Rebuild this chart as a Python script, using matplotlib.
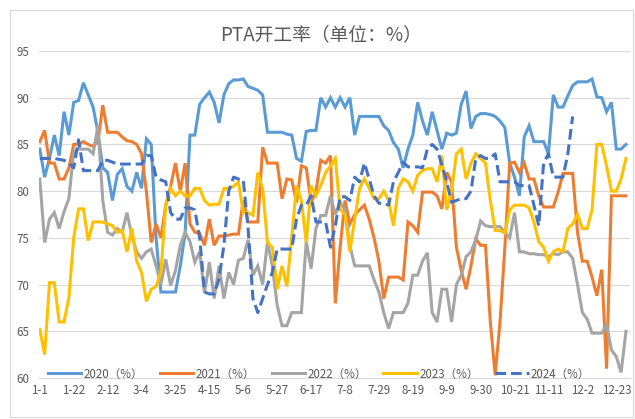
import numpy as np
import matplotlib
matplotlib.use('Agg')
import matplotlib.pyplot as plt
from matplotlib.patches import Rectangle

plt.rcParams['font.family'] = ['Noto Sans CJK SC', 'DejaVu Sans']

# --- data: PTA开工率, one value every 3 days from 1-1 (leap-year calendar) ---
DAYS = np.arange(0, 366, 3)

TICK_DAYS = np.arange(0, 358, 21)
TICK_LABELS = ['1-1', '1-22', '2-12', '3-4', '3-25', '4-15', '5-6', '5-27', '6-17',
               '7-8', '7-29', '8-19', '9-9', '9-30', '10-21', '11-11', '12-2', '12-23']

Y_TICKS = [60, 65, 70, 75, 80, 85, 90, 95]

rate_2020 = [
    84.5, 81.5, 83.5, 86, 83.8, 88.5, 86, 89.5, 89.7, 91.6, 90.3, 89, 86.3, 82.5, 82, 79,
    81.8, 82.4, 80.5, 80, 82, 80.3, 85.6, 85, 75, 69.2, 69.2, 69.2, 69.2, 72, 75.5,
    86, 86, 89.3, 90, 90.6, 89.5, 87.3, 90.3, 91.5, 91.9, 91.9, 92, 91.2, 91, 90.8, 90.3,
    86.3, 86.3, 86.3, 86.3, 86.1, 86, 83.5, 83.2, 86.4, 86.5, 86.5, 90, 89, 90, 89,
    90, 89, 90, 86, 88, 88, 88, 88, 88, 87, 86.5, 85.2, 84.5, 82.5, 84.5, 86, 89.5,
    87.5, 86, 88.5, 86.5, 84.5, 86.2, 86, 86.2, 89.3, 90.7, 86.7, 88, 88.3, 88.3,
    88.2, 88, 87.5, 86.8, 83, 81.5, 79.5, 85.8, 87, 85.3, 85.3, 85.3, 84, 90.3, 89, 89,
    90.2, 91.3, 91.7, 91.7, 91.7, 92, 90.1, 90, 88.5, 89.5, 84.5, 84.5, 85,
]

rate_2021 = [
    85.3, 86.5, 83, 83, 81.3, 81.3, 82.5, 85, 85, 85.3, 85, 84.8, 85.3, 89.2, 86.3, 86.3,
    86.3, 85.8, 85.4, 85.3, 85, 84, 80, 74.5, 76.5, 75, 78.5, 80.5, 83, 80, 83,
    76.5, 75.6, 75.5, 74.2, 77, 74.2, 75.2, 75.2, 75.3, 75.4, 75.4, 79, 76.7, 76.7, 76.7,
    84.7, 83, 83, 83, 79.2, 81.3, 81.2, 78.8, 82.7, 82.5, 78.8, 80, 83.3, 83, 83.8, 68,
    74, 79, 76.5, 77.5, 78, 78.5, 77, 75, 72.5, 68.5, 70.8, 70.8, 70.8, 70.5, 76.7, 76.3,
    75.6, 79.9, 79.9, 79.9, 79.5, 78.1, 82, 81, 74, 71.5, 69.5, 72, 74.9, 74.2, 74.2,
    66, 60.3, 66, 74, 83, 83.1, 82, 83, 81.3, 81.3, 79.5, 78.3, 78.3, 78.3, 79.9, 81.9,
    81.9, 81.9, 75.6, 72.5, 72.5, 70.8, 68.8, 71.6, 61, 79.5, 79.5, 79.5, 79.5,
]

rate_2022 = [
    81.3, 74.5, 77, 77.7, 76, 77.8, 79.2, 84.2, 84.5, 84.5, 84.5, 84, 87, 79, 75.6, 75.3,
    76, 75.6, 77.7, 75.2, 73.5, 72.8, 73.5, 73.8, 72, 70, 72.7, 69.9, 71.5, 74.2, 75.6,
    74.6, 72.4, 73.5, 69.1, 72.4, 68.5, 72, 68.5, 71.3, 70, 72.6, 72.8, 74.8, 71, 72, 70,
    74.6, 72, 67.8, 65.6, 65.6, 67, 67, 67, 74.6, 71.7, 76, 77.4, 77.4, 79.5, 77.5,
    78.8, 78, 74.2, 72, 72, 72, 72, 70.5, 69.2, 67, 65.3, 67, 67, 67, 68, 71, 71, 72.5,
    73.4, 67, 66, 69.5, 69.5, 66, 70, 71, 73, 73.5, 74.8, 76.8, 76.3,
    76.2, 76.2, 76.2, 75.6, 75, 77.7, 73.5, 73.5, 73.3, 73.3, 73.2, 73.2, 73, 73.3, 73.2,
    73.5, 73.5, 72.8, 70, 67, 66.3, 64.8, 64.8, 64.8, 65.7, 63, 62.3, 60.6, 65,
]

rate_2023 = [
    65.2, 62.5, 70.2, 70.2, 66, 66, 68.6, 75, 78.1, 78.1, 74.7, 76.7, 76.7, 76.7, 76.5,
    76.3, 75.6, 75.8, 73.5, 76, 72.5, 71.3, 68.2, 69.5, 69.8, 71.3, 78.5, 80.3, 79.5, 80, 79.5,
    79.5, 80.3, 80.3, 79, 78.5, 78.6, 78.6, 80.3, 80.3, 80.5, 81, 77.7, 77.7, 77.4, 82,
    80.3, 74.5, 74, 69.5, 72, 69.8, 75, 80.6, 79, 74.5, 80.6, 79.5, 80.6, 82, 82.7, 83.5,
    78, 77.5, 73.5, 77, 80.3, 81.3, 80.3, 79.2, 79.2, 80, 79, 76.3, 80.3, 81.3, 81, 80,
    81.7, 82.2, 82.4, 82.4, 81, 83.8, 78, 80, 84, 84.5, 81.3, 83, 84, 83.5, 83,
    79, 75.8, 75.8, 75.5, 78, 78.5, 78.5, 78.5, 78.2, 76.7, 74.6, 74, 72.5, 73.5, 73.8,
    73.5, 76, 76.5, 77.5, 76, 76, 78, 85, 85, 82.7, 80, 80, 81.3, 83.5,
]

rate_2024 = [
    83.5, 83.5, 83.5, 83.5, 83.4, 83.3, 83, 82.5, 85.5, 82.2, 82.2, 82.2, 82.2, 83.3, 83.3,
    83.1, 82.9, 82.9, 82.9, 82.9, 82.9, 82.9, 83.8, 83.8, 81.5, 81.2, 81, 77.7, 77, 77, 78.2,
    78.2, 78, 75, 69.2, 69, 69, 70.6, 74.2, 80, 81.5, 81.3, 81.2, 76, 68.5, 67, 68.5,
    70, 71.3, 73.8, 73.8, 73.8, 73.8, 77, 78.5, 78.5, 79.5, 76.7, 76.7, 76.7, 74, 76.3,
    79.4, 79.4, 79, 81.5, 81, 83, 81.3, 79.5, 78.7, 78.7, 78.5, 81, 82, 83.1, 82.6, 82.6,
    82.6, 82.5, 84.5, 85, 84.5, 82.8, 81, 78.8, 79, 79.2, 79.2, 80, 83.5, 83.8, 83.5,
    83.5, 84, 81, 81, 81, 81, 80.6, 80.6, 80.6, 78.5, 76.3, 83, 84, 81.5, 81.5, 81.5, 84, 88,
] + [np.nan] * 11

SERIES = [
    ('2020（%）', rate_2020, '#5B9BD5', '-'),
    ('2021（%）', rate_2021, '#ED7D31', '-'),
    ('2022（%）', rate_2022, '#A5A5A5', '-'),
    ('2023（%）', rate_2023, '#FFC000', '-'),
    ('2024（%）', rate_2024, '#4472C4', '--'),
]

TEXT_COLOR = '#595959'
GRID_COLOR = '#D9D9D9'

W, H = 635, 419
fig = plt.figure(figsize=(W / 100, H / 100), dpi=100)
ax = fig.add_axes([39 / W, 1 - 378 / H, (630 - 39) / W, (378 - 51) / H])

for label, vals, color, ls in SERIES:
    line, = ax.plot(DAYS, vals, color=color, lw=2.2, label=label, solid_joinstyle='miter')
    if ls == '--':
        line.set_dashes((3.5, 1.6))

ax.set_xlim(-0.5, 365.5)
ax.set_ylim(60, 95)
ax.set_yticks(Y_TICKS)
ax.set_xticks(TICK_DAYS)
ax.set_xticklabels(TICK_LABELS)
ax.tick_params(axis='both', length=0, labelsize=8.3, colors=TEXT_COLOR)
ax.tick_params(axis='y', pad=7)
ax.tick_params(axis='x', pad=4)
ax.grid(axis='y', color=GRID_COLOR, lw=0.8)
ax.set_axisbelow(True)
for s in ['top', 'right', 'left']:
    ax.spines[s].set_visible(False)
ax.spines['bottom'].set_color(GRID_COLOR)
ax.spines['bottom'].set_linewidth(0.8)

fig.text(321 / W, 1 - 35 / H, 'PTA开工率（单位：%）', ha='center', va='center',
         fontsize=13.5, color=TEXT_COLOR)

leg = fig.legend(loc='center', bbox_to_anchor=(319 / W, 1 - 374 / H), ncol=5,
                 frameon=False, fontsize=8.3, handlelength=2.9, handletextpad=0.2,
                 columnspacing=1.45, borderpad=0)
for t in leg.get_texts():
    t.set_color(TEXT_COLOR)

# chart frame
fig.patches.append(Rectangle((10 / W, 1 - 417 / H), 623 / W, 407 / H,
                             transform=fig.transFigure, fill=False,
                             edgecolor=GRID_COLOR, lw=0.8))

fig.savefig('out.png', dpi=100)
